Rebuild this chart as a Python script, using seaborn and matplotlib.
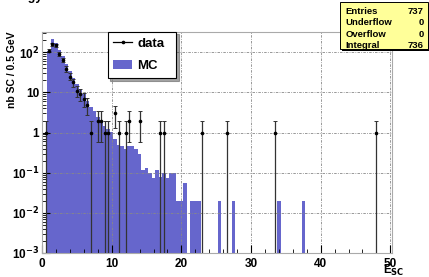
import numpy as np
import pandas as pd
import seaborn as sns
import matplotlib
matplotlib.use("Agg")
import matplotlib.pyplot as plt
from matplotlib.ticker import FuncFormatter, LogLocator, MultipleLocator
from matplotlib.lines import Line2D
from matplotlib.patches import Patch

# MC histogram: bin centres (0.5 GeV bins) and contents
mc_centers = [1.0, 1.5, 2.0, 2.5, 3.0, 3.5, 4.0, 4.5, 5.0, 5.5, 6.0, 6.5, 7.0, 7.5,
              8.0, 8.5, 9.0, 9.5, 10.0, 10.5, 11.0, 11.5, 12.0, 12.5, 13.0, 13.5,
              14.0, 14.5, 15.0, 15.5, 16.0, 16.5, 17.0, 17.5, 18.0, 18.5, 19.0,
              19.5, 20.0, 20.5, 21.5, 22.0, 22.5, 25.5, 27.5, 34.0, 37.5]
mc_values = [108, 218, 168, 114, 81, 50, 34, 23, 16, 12, 9, 6, 4.4, 3.4,
             2.5, 1.9, 1.5, 1.2, 1.05, 0.7, 0.5, 0.45, 0.38, 0.45, 0.45, 0.4,
             0.3, 0.12, 0.13, 0.1, 0.075, 0.12, 0.08, 0.1, 0.075, 0.1, 0.1,
             0.02, 0.02, 0.056, 0.02, 0.02, 0.02, 0.02, 0.02, 0.02, 0.02]

# data points: bin centre and number of entries
data_x = [0.5, 1.0, 1.5, 2.0, 2.5, 3.0, 3.5, 4.0, 4.5, 5.0, 5.5, 6.0, 6.5, 7.0,
          8.0, 8.5, 9.0, 9.5, 10.5, 11.0, 12.0, 12.5, 14.0, 17.0, 17.5,
          23.0, 26.5, 33.5, 48.0]
data_n = [1, 110, 160, 150, 90, 64, 39, 25, 18, 11, 9, 7, 5, 1,
          2, 2, 1, 1, 3, 1, 1, 2, 2, 1, 1,
          1, 1, 1, 1]

stats_labels = ["Entries", "Underflow", "Overflow", "Integral"]
stats_values = ["737", "0", "0", "736"]

edges = [0.25 + 0.5 * i for i in range(101)]
mc_color = "#6666cc"

plt.rcParams["font.family"] = ["Liberation Sans", "DejaVu Sans"]
plt.rcParams["font.weight"] = "bold"
plt.rcParams["mathtext.default"] = "bf"

fig = plt.figure(figsize=(4.29, 2.77), dpi=100)
ax = fig.add_axes([0.098, 0.087, 0.816, 0.799])

df_mc = pd.DataFrame({"E": mc_centers, "w": mc_values})
sns.histplot(data=df_mc, x="E", weights="w", bins=edges, ax=ax, color=mc_color,
             alpha=1, linewidth=0, element="bars")
ax.set_yscale("log")

n = np.array(data_n, dtype=float)
err = np.sqrt(n)
lo = np.where(n - err <= 0, n - 1e-4, err)
ax.errorbar(data_x, n, yerr=[lo, err], fmt="o", ms=1.6, color="black",
            ecolor="#333333", elinewidth=0.9, capsize=1.5, capthick=0.7, zorder=4)

ax.set_xlim(0, 50.25)
ax.set_ylim(1e-3, 330)

ax.grid(True, which="major", color="#888888", linestyle=(0, (3, 1.5, 1, 1.5)), linewidth=0.6)
for ln in ax.get_xgridlines() + ax.get_ygridlines():
    ln.set_zorder(1.5)

ax.xaxis.set_major_locator(MultipleLocator(10))
ax.xaxis.set_minor_locator(MultipleLocator(2))
ax.yaxis.set_major_locator(LogLocator(base=10, numticks=10))
ax.yaxis.set_minor_locator(LogLocator(base=10, subs=np.arange(2, 10), numticks=20))


def ylab(v, pos):
    e = int(round(np.log10(v)))
    if e == 0:
        return "1"
    if e == 1:
        return "10"
    return "10$^{%d}$" % e


ax.yaxis.set_major_formatter(FuncFormatter(ylab))
ax.tick_params(which="both", direction="in", top=False, right=False, labelsize=8.5)
ax.tick_params(which="major", length=6, width=0.8)
ax.tick_params(which="minor", length=3, width=0.6)
ax.tick_params(axis="y", pad=2)
for lab in ax.get_xticklabels() + ax.get_yticklabels():
    lab.set_fontweight("bold")

for sp in ax.spines.values():
    sp.set_color("#aaaaaa")
    sp.set_linewidth(0.8)

ax.set_xlabel("")
ax.set_ylabel("")
fig.text(0.028, 0.886, "nb SC / 0.5 GeV", fontsize=7.5, fontweight="bold",
         rotation=90, ha="center", va="top")
fig.text(0.893, -0.005, "E$_{SC}$", fontsize=8.5, fontweight="bold", ha="left", va="bottom")

# legend box, stretched to the width of the original box
handles = [Line2D([0], [0], color="black", marker="o", ms=1.6, lw=0.9),
           Patch(facecolor=mc_color, edgecolor="none")]
leg = ax.legend(handles, ["data", "MC"], loc="upper left",
                bbox_to_anchor=(0.187, 0.0, 0.195, 1.0), mode="expand",
                frameon=True, fancybox=False, shadow=True, fontsize=9.5,
                handlelength=1.4, handletextpad=0.4, borderpad=0.45,
                labelspacing=0.75, edgecolor="black", borderaxespad=0)
leg.get_frame().set_linewidth(0.8)
for t in leg.get_texts():
    t.set_fontweight("bold")

# stats box
sx0, sy0, sw, sh = 0.793, 0.823, 0.205, 0.17
fig.patches.append(plt.Rectangle((sx0 + 0.005, sy0 - 0.008), sw, sh, transform=fig.transFigure,
                                 facecolor="black", edgecolor="none", zorder=5))
fig.patches.append(plt.Rectangle((sx0, sy0), sw, sh, transform=fig.transFigure,
                                 facecolor="#ffff99", edgecolor="black", linewidth=0.7, zorder=6))
for i, (l, v) in enumerate(zip(stats_labels, stats_values)):
    yy = sy0 + sh - 0.035 - i * 0.041
    fig.text(sx0 + 0.012, yy, l, fontsize=6.8, fontweight="bold", va="center", zorder=7)
    fig.text(sx0 + sw - 0.01, yy, v, fontsize=6.8, fontweight="bold", va="center", ha="right", zorder=7)

# clipped title descenders at the very top
fig.text(0.098, 1.0, "Energy", fontsize=9, fontweight="bold", ha="right", va="baseline")

fig.savefig("out.png", dpi=100)
